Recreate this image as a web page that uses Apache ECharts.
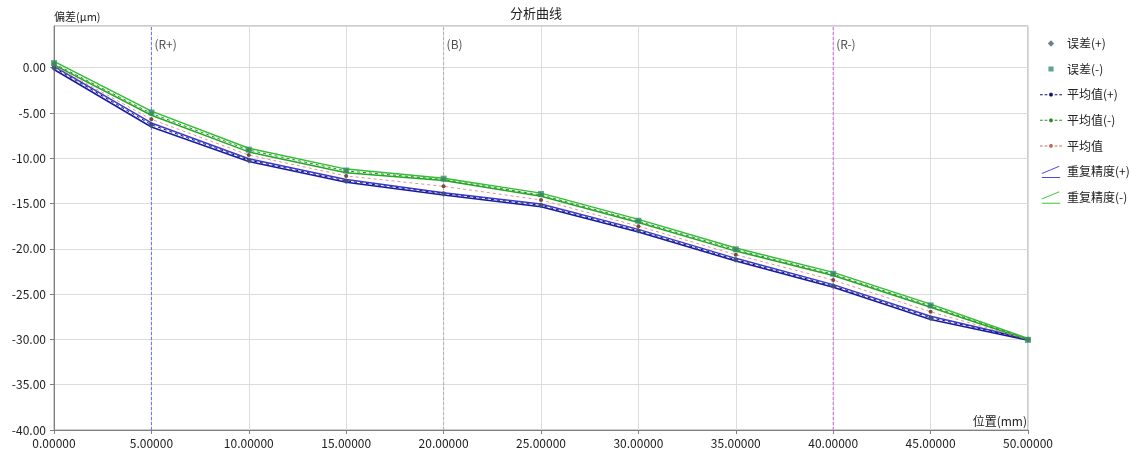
<!DOCTYPE html>
<html><head><meta charset="utf-8">
<script src="https://cdn.jsdelivr.net/npm/echarts@6/dist/echarts.min.js"></script>
<style>html,body{margin:0;padding:0;background:#fff}#c{width:1140px;height:457px}</style>
</head><body><div id="c"></div>
<script>
var positions = [0, 5, 10, 15, 20, 25, 30, 35, 40, 45, 50];
var errPlus   = [-0.05, -6.35, -10.25, -12.55, -13.95, -15.2, -18.0, -21.2, -24.1, -27.65, -30.0];
var errMinus  = [0.5, -4.95, -9.05, -11.35, -12.25, -13.95, -16.9, -20.05, -22.75, -26.25, -30.05];
var avgPlus   = [0.0, -6.3, -10.2, -12.5, -13.9, -15.2, -18.0, -21.2, -24.1, -27.6, -30.0];
var avgMinus  = [0.45, -5.05, -9.1, -11.4, -12.35, -14.05, -16.95, -20.1, -22.8, -26.3, -30.0];
var avgAll    = [0.2, -5.7, -9.65, -11.95, -13.1, -14.6, -17.5, -20.65, -23.45, -26.95, -30.0];
var repPlusUpper  = [0.15, -6.1, -10.05, -12.35, -13.8, -15.05, -17.85, -21.05, -23.95, -27.45, -29.95];
var repPlusLower  = [-0.2, -6.55, -10.35, -12.65, -14.05, -15.35, -18.15, -21.35, -24.25, -27.8, -30.1];
var repMinusUpper = [0.7, -4.8, -8.9, -11.2, -12.2, -13.85, -16.75, -19.9, -22.6, -26.1, -29.9];
var repMinusLower = [0.3, -5.25, -9.3, -11.6, -12.45, -14.2, -17.1, -20.25, -22.95, -26.45, -30.05];
var refLines = [[5, '(R+)', '#6a6aff'], [20, '(B)', '#b0b0b0'], [40, '(R-)', '#e858e8']];
var refLabelY = 2.55;
var yMin = -40, yMax = 4.6;

function pairs(ys){ return positions.map(function(x,i){ return [x, ys[i]]; }); }
var font = 'Noto Sans CJK SC';
var chart = echarts.init(document.getElementById('c'));

// legend icons (24 x 14 box)
var box = 'M0,0 L0.001,0 Z M24,14 L23.999,14 Z ';
var dashIcon = 'path://' + box +
  'M0,6.4 L3,6.4 L3,7.6 L0,7.6 Z M5,6.4 L8,6.4 L8,7.6 L5,7.6 Z ' +
  'M16,6.4 L19,6.4 L19,7.6 L16,7.6 Z M21,6.4 L24,6.4 L24,7.6 L21,7.6 Z ' +
  'M11,5 L13,5 L14,6 L14,8 L13,9 L11,9 L10,8 L10,6 Z';
var diamondIcon = 'path://' + box + 'M12,3.5 L15.5,7 L12,10.5 L8.5,7 Z';
var squareIcon = 'path://' + box + 'M9.2,4.2 L14.8,4.2 L14.8,9.8 L9.2,9.8 Z';
var repIcon = 'path://' + box + 'M2,8.5 L21,0.5 L21,1.6 L2,9.6 Z M2,13 L22,13 L22,14 L2,14 Z';

var series = [];
refLines.forEach(function(r){
  series.push({name:'ref'+r[1], type:'line', symbol:'none', silent:true, z:1,
    lineStyle:{color:r[2], type:[3,2], width:1},
    data:[[r[0], yMin], [r[0], yMax]]});
});
series = series.concat([
  {name:'误差(+)', type:'scatter', symbol:'diamond', symbolSize:6, z:5,
   itemStyle:{color:'#4a6078'}, data:pairs(errPlus)},
  {name:'误差(-)', type:'scatter', symbol:'rect', symbolSize:6, z:5,
   itemStyle:{color:'#3a8f6a'}, data:pairs(errMinus)},
  {name:'平均值(+)', type:'line', symbol:'circle', symbolSize:4, z:4,
   lineStyle:{color:'#10107a', width:1, type:[3,3]}, itemStyle:{color:'#10107a'}, data:pairs(avgPlus)},
  {name:'平均值(-)', type:'line', symbol:'circle', symbolSize:4, z:4,
   lineStyle:{color:'#2a8a2a', width:1, type:[3,3]}, itemStyle:{color:'#2a8a2a'}, data:pairs(avgMinus)},
  {name:'平均值', type:'line', symbol:'circle', symbolSize:4, z:4,
   lineStyle:{color:'#e89090', width:1, type:[3,3]}, itemStyle:{color:'#7a4a3a'}, data:pairs(avgAll)},
  {name:'重复精度(+)', type:'line', symbol:'none', z:3,
   lineStyle:{color:'#3a3ad0', width:1.5}, itemStyle:{color:'#4a4ad8'}, data:pairs(repPlusUpper)},
  {name:'重复精度(+)', type:'line', symbol:'none', z:3,
   lineStyle:{color:'#1a1aa0', width:1.5}, itemStyle:{color:'#4a4ad8'}, data:pairs(repPlusLower)},
  {name:'重复精度(-)', type:'line', symbol:'none', z:3,
   lineStyle:{color:'#2ec02e', width:1.5}, itemStyle:{color:'#3ac83a'}, data:pairs(repMinusUpper)},
  {name:'重复精度(-)', type:'line', symbol:'none', z:3,
   lineStyle:{color:'#22a822', width:1.5}, itemStyle:{color:'#3ac83a'}, data:pairs(repMinusLower)},
  {name:'refLabels', type:'scatter', symbolSize:0, silent:true, z:6,
   data: refLines.map(function(r){ return {value:[r[0], refLabelY], name:r[1]}; }),
   label:{show:true, position:'right', distance:3, formatter:'{b}', color:'#222', fontSize:12, fontFamily:font}}
]);

chart.setOption({
  animation:false,
  textStyle:{fontFamily:font},
  title:{text:'分析曲线', left:531, top:2, textAlign:'center',
    textStyle:{fontSize:13, fontWeight:'normal', color:'#222', fontFamily:font}},
  grid:{left:54, right:112, top:26, bottom:27, show:true, borderColor:'#9a9a9a', borderWidth:1, containLabel:false},
  legend:{orient:'vertical', left:1035, top:32, itemWidth:22, itemHeight:14, itemGap:12.8,
    textStyle:{fontSize:12, color:'#222', fontFamily:font},
    data:[
      {name:'误差(+)', icon:diamondIcon},
      {name:'误差(-)', icon:squareIcon},
      {name:'平均值(+)', icon:dashIcon},
      {name:'平均值(-)', icon:dashIcon},
      {name:'平均值', icon:dashIcon, itemStyle:{color:'#c07060'}},
      {name:'重复精度(+)', icon:repIcon},
      {name:'重复精度(-)', icon:repIcon}
    ]},
  xAxis:{type:'value', min:0, max:50, interval:5,
    name:'位置(mm)', nameLocation:'end', nameGap:-1,
    nameTextStyle:{align:'right', verticalAlign:'bottom', padding:[0,0,3,0], color:'#222', fontSize:12, fontFamily:font},
    axisLine:{show:true, onZero:false, lineStyle:{color:'#808080'}},
    axisTick:{show:true, length:4, lineStyle:{color:'#808080'}},
    axisLabel:{color:'#222', fontSize:12, margin:7, formatter:function(v){return v.toFixed(5);}},
    splitLine:{show:true, lineStyle:{color:'#dcdcdc'}}},
  yAxis:{type:'value', min:yMin, max:yMax, interval:5,
    name:'偏差(μm)', nameLocation:'end', nameGap:4,
    nameTextStyle:{align:'left', verticalAlign:'bottom', color:'#222', fontSize:11, fontFamily:font},
    axisLine:{show:true, onZero:false, lineStyle:{color:'#808080'}},
    axisTick:{show:true, length:4, lineStyle:{color:'#808080'}},
    axisLabel:{color:'#222', fontSize:12, margin:8, showMaxLabel:false, formatter:function(v){return v.toFixed(2);}},
    splitLine:{show:true, lineStyle:{color:'#dcdcdc'}}},
  series:series
});
</script></body></html>
